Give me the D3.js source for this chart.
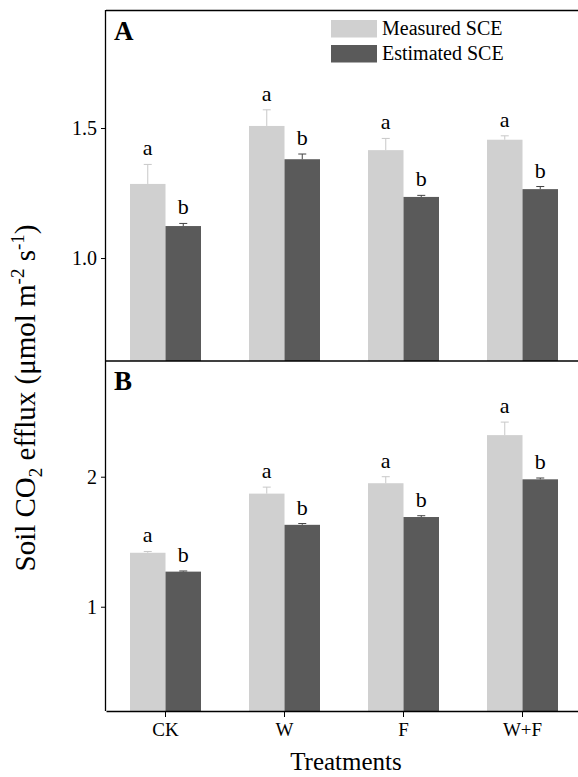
<!DOCTYPE html>
<html><head><meta charset="utf-8">
<script src="https://cdn.jsdelivr.net/npm/d3@7"></script>
<style>body{margin:0;background:#fff}svg text{font-family:"Liberation Serif","Times New Roman",Tinos,serif !important}</style>
</head><body>
<svg id="c" width="578" height="777"></svg>
<script>
const categories=["CK","W","F","W+F"];
const seriesNames=["Measured SCE","Estimated SCE"];
const aMeasured=[1.285,1.508,1.415,1.455];
const aMeasuredErr=[0.075,0.062,0.045,0.015];
const aEstimated=[1.123,1.38,1.235,1.265];
const aEstimatedErr=[0.01,0.02,0.006,0.01];
const bMeasured=[1.415,1.87,1.95,2.32];
const bMeasuredErr=[0.01,0.05,0.05,0.1];
const bEstimated=[1.27,1.63,1.69,1.98];
const bEstimatedErr=[0.005,0.01,0.01,0.01];
const aTicks=[1.0,1.5];
const bTicks=[1,2];
const colors=["#d0d0d0","#5a5a5a"];

const svg=d3.select("#c");
const x=d3.scaleBand().domain(categories).range([106,582]);
const panels=[
 {label:"A",y:d3.scaleLinear().domain([0.604,1.952]).range([361,10.5]),m:aMeasured,me:aMeasuredErr,e:aEstimated,ee:aEstimatedErr,ticks:aTicks,fmt:d3.format(".1f")},
 {label:"B",y:d3.scaleLinear().domain([0.198,2.89]).range([711,361]),m:bMeasured,me:bMeasuredErr,e:bEstimated,ee:bEstimatedErr,ticks:bTicks,fmt:d3.format("d")}
];
const bw=35.5;
panels.forEach(p=>{
 const g=svg.append("g");
 const base=p.y.range()[0];
 [[p.m,p.me,-1],[p.e,p.ee,0]].forEach(([vals,errs,off],si)=>{
  categories.forEach((c,i)=>{
   const cx=x(c)+x.bandwidth()/2;
   const x0=cx+off*bw;
   g.append("rect").attr("x",x0).attr("width",bw).attr("y",p.y(vals[i])).attr("height",base-p.y(vals[i])).attr("fill",colors[si]);
   const ex=x0+bw/2, et=p.y(vals[i]+errs[i]);
   const ec=si===0?"#c8c8c8":"#444";
   g.append("line").attr("x1",ex).attr("x2",ex).attr("y1",p.y(vals[i])).attr("y2",et).attr("stroke",ec);
   g.append("line").attr("x1",ex-4).attr("x2",ex+4).attr("y1",et).attr("y2",et).attr("stroke",ec);
   g.append("text").attr("x",ex).attr("y",et-9).attr("text-anchor","middle").attr("font-size",22).text(si===0?"a":"b");
  });
 });
 const ax=g.append("g").attr("transform","translate(106,0)").call(d3.axisLeft(p.y).tickValues(p.ticks).tickFormat(p.fmt).tickSize(5).tickPadding(4));
 ax.select(".domain").remove();
 ax.selectAll("text").attr("font-size",20);
 g.append("text").attr("x",114).attr("y",p.y.range()[1]+29).attr("font-size",27).attr("font-weight","bold").text(p.label);
});
svg.append("line").attr("x1",106).attr("x2",582).attr("y1",10.5).attr("y2",10.5).attr("stroke","#000").attr("stroke-width",1.3);
svg.append("line").attr("x1",105.5).attr("x2",582).attr("y1",361).attr("y2",361).attr("stroke","#000").attr("stroke-width",1.3);
svg.append("line").attr("x1",105.5).attr("x2",105.5).attr("y1",10).attr("y2",711).attr("stroke","#000").attr("stroke-width",1.3);
const xa=svg.append("g").attr("transform","translate(0,711)").call(d3.axisBottom(x).tickSizeInner(6).tickSizeOuter(0).tickPadding(6));
xa.select(".domain").attr("stroke-width",1.3);
xa.selectAll("text").attr("font-size",19);
seriesNames.forEach((s,i)=>{
 svg.append("rect").attr("x",331).attr("y",20+i*25).attr("width",46).attr("height",17.5).attr("fill",colors[i]);
 svg.append("text").attr("x",382).attr("y",35+i*25).attr("font-size",20).text(s);
});
svg.append("text").attr("x",346).attr("y",770).attr("text-anchor","middle").attr("font-size",25).text("Treatments");
const yl=svg.append("text").attr("transform","translate(35,398) rotate(-90)").attr("text-anchor","middle").attr("font-size",29);
yl.append("tspan").text("Soil CO");
yl.append("tspan").attr("font-size",19).attr("dy",7).text("2");
yl.append("tspan").attr("dy",-7).text(" efflux (μmol m");
yl.append("tspan").attr("font-size",19).attr("dy",-11).text("-2");
yl.append("tspan").attr("dy",11).text(" s");
yl.append("tspan").attr("font-size",19).attr("dy",-11).text("-1");
yl.append("tspan").attr("dy",11).text(")");
</script></body></html>
